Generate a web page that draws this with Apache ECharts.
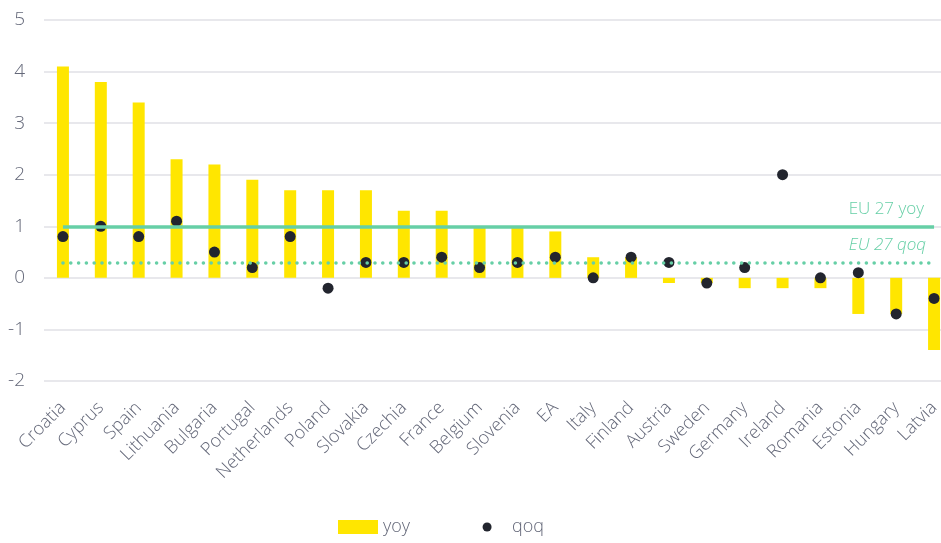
<!DOCTYPE html>
<html>
<head>
<meta charset="utf-8">
<script src="https://cdn.jsdelivr.net/npm/echarts@6/dist/echarts.min.js"></script>
<style>
  html, body { margin: 0; padding: 0; background: #fff; }
  #main { width: 941px; height: 543px; }
</style>
</head>
<body>
<div id="main"></div>
<script>
var countries = ['Croatia', 'Cyprus', 'Spain', 'Lithuania', 'Bulgaria', 'Portugal', 'Netherlands',
  'Poland', 'Slovakia', 'Czechia', 'France', 'Belgium', 'Slovenia', 'EA', 'Italy', 'Finland',
  'Austria', 'Sweden', 'Germany', 'Ireland', 'Romania', 'Estonia', 'Hungary', 'Latvia'];
var yoy = [4.1, 3.8, 3.4, 2.3, 2.2, 1.9, 1.7, 1.7, 1.7, 1.3, 1.3, 1.0, 1.0, 0.9, 0.4, 0.4,
  -0.1, -0.1, -0.2, -0.2, -0.2, -0.7, -0.7, -1.4];
var qoq = [0.8, 1.0, 0.8, 1.1, 0.5, 0.2, 0.8, -0.2, 0.3, 0.3, 0.4, 0.2, 0.3, 0.4, 0.0, 0.4,
  0.3, -0.1, 0.2, 2.0, 0.0, 0.1, -0.7, -0.4];
var eu27Yoy = 1.0;
var eu27Qoq = 0.3;

var green = '#66cfa6';
var textGrey = '#646879';
var font = 'Open Sans';

var myChart = echarts.init(document.getElementById('main'));

// small dot for the qoq legend entry (the M points pad the box so the dot stays small)
var dotIcon = 'path://M0,0M14,14M2.5,7a4.5,4.5 0 1,0 9,0a4.5,4.5 0 1,0 -9,0z';

var option = {
  animation: false,
  textStyle: { fontFamily: font },
  grid: { left: 44, width: 909, top: 20, bottom: 162, outerBoundsMode: 'none' },
  legend: {
    bottom: 2,
    left: 333,
    itemWidth: 40,
    itemHeight: 14,
    itemGap: 70,
    textStyle: { color: textGrey, fontSize: 18, fontFamily: font, fontWeight: 300 },
    data: [
      { name: 'yoy', icon: 'rect' },
      { name: 'qoq', icon: dotIcon }
    ]
  },
  xAxis: {
    type: 'category',
    data: countries,
    axisLine: { show: false },
    axisTick: { show: false },
    axisLabel: {
      rotate: 45,
      interval: 0,
      color: textGrey,
      fontSize: 18,
      fontWeight: 300,
      margin: 24
    }
  },
  yAxis: {
    type: 'value',
    min: -2,
    max: 5,
    interval: 1,
    axisLine: { show: false },
    axisTick: { show: false },
    axisLabel: { color: textGrey, fontSize: 19, fontWeight: 300, margin: 19 },
    splitLine: { lineStyle: { color: '#e1e1e6', width: 1.5 } }
  },
  series: [
    {
      name: 'yoy',
      type: 'bar',
      data: yoy,
      barWidth: 12,
      itemStyle: { color: '#ffe600' }
    },
    {
      name: 'qoq',
      type: 'scatter',
      data: qoq,
      symbolSize: 11,
      itemStyle: { color: '#22252e', opacity: 1 },
      z: 3
    },
    {
      name: 'EU 27',
      type: 'line',
      data: [],
      z: 4,
      markLine: {
        silent: true,
        symbol: 'none',
        data: [
          [
            {
              coord: [countries[0], eu27Yoy],
              lineStyle: { color: green, width: 3.5, type: 'solid' },
              label: {
                show: true,
                position: 'insideEndTop',
                formatter: 'EU 27 yoy',
                color: green,
                fontSize: 17,
                fontWeight: 300,
                distance: [10, 9]
              }
            },
            { coord: [countries[countries.length - 1], eu27Yoy] }
          ],
          [
            {
              coord: [countries[0], eu27Qoq],
              lineStyle: { color: green, width: 3.5, type: [0.1, 7.7], cap: 'round' },
              label: {
                show: true,
                position: 'insideEndTop',
                formatter: 'EU 27 qoq',
                color: green,
                fontSize: 17,
                fontWeight: 300,
                fontStyle: 'italic',
                distance: [8, 9]
              }
            },
            { coord: [countries[countries.length - 1], eu27Qoq] }
          ]
        ]
      }
    }
  ]
};

myChart.setOption(option);
</script>
</body>
</html>
